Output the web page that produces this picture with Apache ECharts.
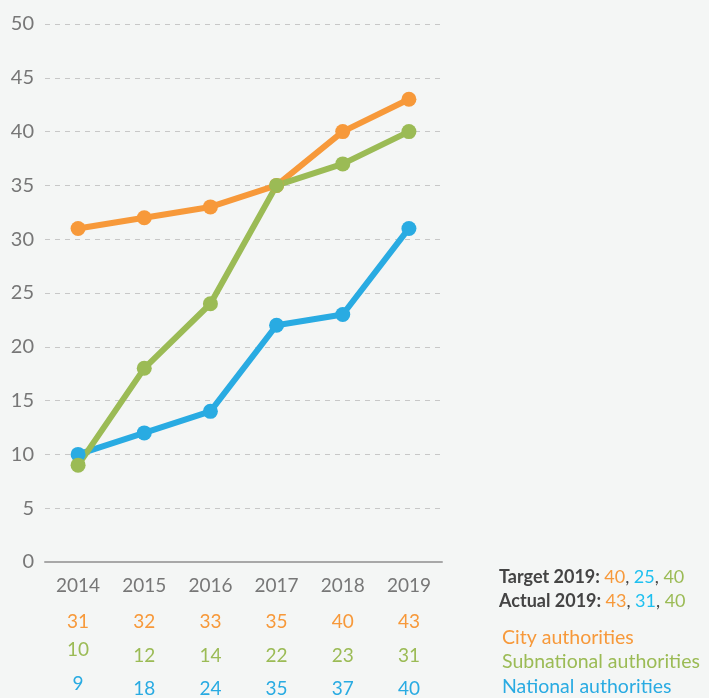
<!DOCTYPE html>
<html>
<head>
<meta charset="utf-8">
<script src="https://cdn.jsdelivr.net/npm/echarts@6/dist/echarts.min.js"></script>
<style>
  html, body { margin: 0; padding: 0; background: #f4f6f5; }
  #chart { width: 709px; height: 698px; }
</style>
</head>
<body>
<div id="chart"></div>
<script>
// Yearly values per authority type
const years = ['2014', '2015', '2016', '2017', '2018', '2019'];
const cityAuthorities = [31, 32, 33, 35, 40, 43];
const subnationalAuthorities = [9, 18, 24, 35, 37, 40];
const nationalAuthorities = [10, 12, 14, 22, 23, 31];
const yTicks = [0, 5, 10, 15, 20, 25, 30, 35, 40, 45, 50];

// 2019 target / actual figures (city, national, subnational)
const target2019 = [40, 25, 40];
const actual2019 = [43, 31, 40];
const legendNames = ['City authorities', 'Subnational authorities', 'National authorities'];

const ORANGE = '#f7993a';
const GREEN = '#9bbb55';
const BLUE = '#29abe2';
const CYAN = '#1ec0f0';
const FONT = 'Lato';

const chart = echarts.init(document.getElementById('chart'));

// Row of values printed under the year labels; the first column sits a little higher
function valueRow(values, color, offset, lift) {
  return {
    type: 'category',
    data: years,
    position: 'bottom',
    offset: offset,
    axisLine: { show: false },
    axisTick: { show: false },
    splitLine: { show: false },
    axisLabel: {
      margin: 15,
      formatter: (v, i) => (i === 0 ? '{first|' + values[i] + '}' : '{rest|' + values[i] + '}'),
      rich: {
        first: { color: color, fontSize: 19, fontFamily: FONT },
        rest: { color: color, fontSize: 19, fontFamily: FONT, padding: [lift, 0, 0, 0] }
      }
    }
  };
}

function lineSeries(name, data, color) {
  return {
    name: name,
    type: 'line',
    data: data,
    symbol: 'circle',
    symbolSize: 15,
    lineStyle: { width: 6, color: color },
    itemStyle: { color: color },
    emphasis: { disabled: true },
    z: 3
  };
}

function summaryLine(label, values, top) {
  const base = { fontSize: 18, fontFamily: FONT };
  return {
    type: 'text',
    left: 499,
    top: top,
    style: {
      text: '{b|' + label + ' }{o|' + values[0] + '}{k|, }{c|' + values[1] + '}{k|, }{g|' + values[2] + '}',
      rich: {
        b: Object.assign({ fontWeight: 'bold', fill: '#444' }, base),
        k: Object.assign({ fill: '#444' }, base),
        o: Object.assign({ fill: ORANGE }, base),
        c: Object.assign({ fill: CYAN }, base),
        g: Object.assign({ fill: GREEN }, base)
      }
    }
  };
}

function legendLine(text, color, top) {
  return {
    type: 'text',
    left: 502,
    top: top,
    style: { text: text, fill: color, fontSize: 19.5, fontFamily: FONT }
  };
}

chart.setOption({
  backgroundColor: '#f4f6f5',
  animation: false,
  textStyle: { fontFamily: FONT },
  grid: { left: 45, right: 267, top: 24, bottom: 135 },
  xAxis: [
    {
      type: 'category',
      data: years,
      boundaryGap: true,
      axisLine: { lineStyle: { color: '#a8a8a8', width: 2 } },
      axisTick: { show: false },
      axisLabel: { color: '#777', fontSize: 19, fontFamily: FONT, margin: 14 }
    },
    valueRow(cityAuthorities, ORANGE, 35, 0),
    valueRow(nationalAuthorities, GREEN, 63, 6),
    valueRow(subnationalAuthorities, BLUE, 97, 5)
  ],
  yAxis: {
    type: 'value',
    min: yTicks[0],
    max: yTicks[yTicks.length - 1],
    interval: 5,
    axisLine: { show: false },
    axisTick: { show: false },
    axisLabel: { color: '#777', fontSize: 20, fontFamily: FONT, margin: 11 },
    splitLine: { lineStyle: { color: '#c8c8c8', type: [5, 5], width: 1 } }
  },
  graphic: [
    summaryLine('Target 2019:', target2019, 568),
    summaryLine('Actual 2019:', actual2019, 592),
    legendLine(legendNames[0], ORANGE, 628),
    legendLine(legendNames[1], GREEN, 652),
    legendLine(legendNames[2], BLUE, 677)
  ],
  series: [
    lineSeries('City authorities', cityAuthorities, ORANGE),
    lineSeries('National authorities', nationalAuthorities, BLUE),
    lineSeries('Subnational authorities', subnationalAuthorities, GREEN)
  ]
});
</script>
</body>
</html>
